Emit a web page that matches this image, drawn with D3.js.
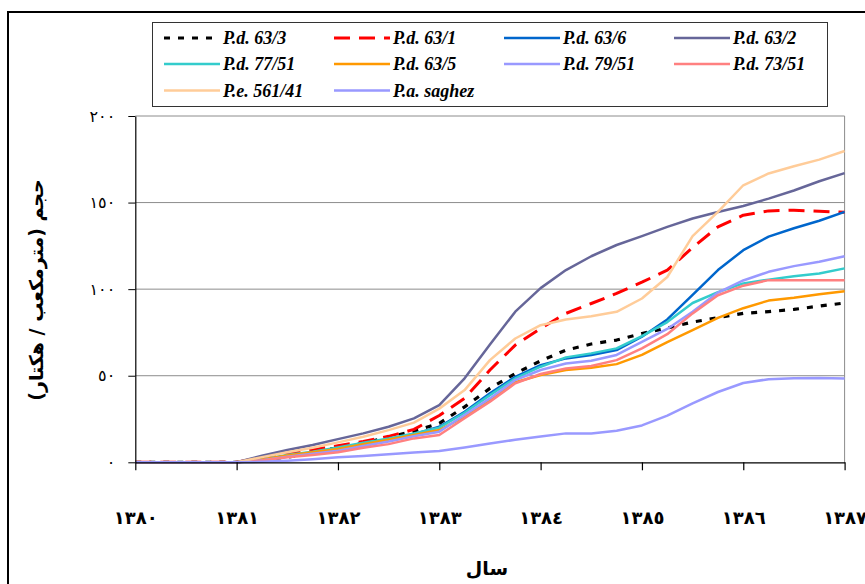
<!DOCTYPE html>
<html>
<head>
<meta charset="utf-8">
<script src="https://cdn.jsdelivr.net/npm/d3@7"></script>
<style>
  html, body { margin: 0; padding: 0; background: #fff; }
  svg { display: block; }
</style>
</head>
<body>
<svg id="chart" width="865" height="584"></svg>
<script>
// ---- data (quarterly readings, 1380 .. 1387) ----
const yearLabels = ["١٣٨٠", "١٣٨١", "١٣٨٢", "١٣٨٣", "١٣٨٤", "١٣٨٥", "١٣٨٦", "١٣٨٧"];
const yTickValues = [0, 50, 100, 150, 200];
const yTickLabels = ["٠", "٥٠", "١٠٠", "١٥٠", "٢٠٠"];
const seriesNames = ["P.d. 63/3", "P.d. 63/1", "P.d. 63/6", "P.d. 63/2", "P.d. 77/51",
                     "P.d. 63/5", "P.d. 79/51", "P.d. 73/51", "P.e. 561/41", "P.a. saghez"];

const pd63_3  = [0,0,0,0,0, 1.5,3,5.5,8.5,11,14.5,18,22.5, 32,42.7,51.3,58.6,64.8,68.3,70.6,74.4,77.5,81,83.5,86,87,88.3,90.2,92];
const pd63_1  = [0,0,0,0,0, 2.8,5,7.3,9.5,12,15,19,27, 37,53.3,67.7,77.3,86,91.7,97.5,104,111,124,136,142.7,145.2,145.6,145,144.4];
const pd63_6  = [0,0,0,0,0, 1.3,3.4,5.3,7.5,10.2,13,16.3,20.5, 29.2,39.8,49.4,56.1,60,62,64.8,72.5,82.5,96.7,111,122.5,130.3,135.2,139.5,144.6];
const pd63_2  = [0,0,0,0,0, 3.8,7.1,10,13.4,16.7,20.5,25.4,33, 48.5,68,87,100.6,111,119,125.5,130.6,136,140.8,144.6,148,152.3,157,162.3,167];
const pd77_51 = [0,0,0,0,0, 1.8,4.2,6.1,8.6,11.3,13.8,16.7,20, 28.6,38.8,48.5,55.2,60.6,62.9,65.8,72.9,81,92,98.3,103.3,105.5,107.5,109,112];
const pd63_5  = [0,0,0,0,0, 1.6,3.9,5.8,7.7,10.5,13,15.8,18.6, 26.3,36,46.2,50.4,53.3,54.6,56.7,62,69.4,76.3,83.4,89,93.4,95,97,98.8];
const pd79_51 = [0,0,0,0,0, 1.2,3.2,5,6.7,9.4,12,15,17.7, 27.3,36.9,47.5,53.3,57.1,58.6,62,69.6,77,87,98,105,110,113.3,115.8,119];
const pd73_51 = [0,0,0,0,0, 1,2.9,4.2,5.8,8.4,10.5,13.8,15.8, 25.4,35,45.6,51,54.2,55.6,59,65.8,74,86,96.5,102,105.2,105.2,105.2,105.2];
const pe561_41= [0,0,0,0,0, 3,5.8,8.4,11.5,14.8,18.6,22.9,31, 41.7,59,71.5,79.2,82.5,84.4,86.9,94.6,107,130.6,144.6,160,166.8,171,174.8,179.8];
const paSaghez= [0,0,0,0,0, 0.3,0.9,1.8,2.9,3.6,4.6,5.6,6.5, 8.5,10.8,13,14.9,16.7,16.7,18.2,21.3,27,34,40.6,45.8,48,48.6,48.7,48.4];

const seriesValues = [pd63_3, pd63_1, pd63_6, pd63_2, pd77_51, pd63_5, pd79_51, pd73_51, pe561_41, paSaghez];

// ---- styles ----
const styles = [
  { color: "#000000", width: 3.2, dash: "6,8" },
  { color: "#FF0000", width: 3,   dash: "16,9" },
  { color: "#0066CC", width: 2.5, dash: null },
  { color: "#666699", width: 2.5, dash: null },
  { color: "#33CCCC", width: 2.5, dash: null },
  { color: "#FF9900", width: 2.5, dash: null },
  { color: "#9999FF", width: 2.5, dash: null },
  { color: "#FF8080", width: 2.5, dash: null },
  { color: "#FFCC99", width: 2.5, dash: null },
  { color: "#9999FF", width: 2.5, dash: null }
];

const svg = d3.select("#chart");
const plotLeft = 135.3, plotRight = 844.6, plotTop = 116, plotBottom = 462.3;
const nPts = pd63_3.length;

const x = d3.scaleLinear().domain([0, nPts - 1]).range([plotLeft, plotRight]);
const y = d3.scaleLinear().domain([0, 200]).range([plotBottom, plotTop]);

// outer border
svg.append("rect").attr("x", 8).attr("y", 12).attr("width", 900).attr("height", 620)
  .attr("fill", "none").attr("stroke", "#000").attr("stroke-width", 2);

// gridlines
svg.append("g").selectAll("line").data(yTickValues.filter(v => v > 0)).join("line")
  .attr("x1", plotLeft).attr("x2", plotRight)
  .attr("y1", d => y(d)).attr("y2", d => y(d))
  .attr("stroke", "#8c8c8c").attr("stroke-width", 1);

// right plot border
svg.append("line").attr("x1", plotRight).attr("x2", plotRight).attr("y1", plotTop).attr("y2", plotBottom)
  .attr("stroke", "#8c8c8c").attr("stroke-width", 1);

// lines
const line = d3.line().x((d, i) => x(i)).y(d => y(d));
seriesValues.forEach((vals, k) => {
  const s = styles[k];
  svg.append("path").datum(vals)
    .attr("d", line)
    .attr("fill", "none")
    .attr("stroke", s.color)
    .attr("stroke-width", s.width)
    .attr("stroke-linejoin", "round")
    .attr("stroke-dasharray", s.dash);
});

// x axis
const xTicks = yearLabels.map((_, i) => i * 4);
const xAxis = d3.axisBottom(x).tickValues(xTicks)
  .tickFormat((d, i) => yearLabels[i]).tickSize(8).tickSizeOuter(0);
const gx = svg.append("g").attr("transform", `translate(0,${plotBottom})`).call(xAxis);
gx.select(".domain").attr("stroke", "#000").attr("stroke-width", 1.2);
gx.selectAll(".tick line").attr("stroke", "#000").attr("stroke-width", 1.2);
gx.selectAll(".tick text")
  .attr("y", 55).attr("dy", "0.35em")
  .attr("font-family", "'DejaVu Sans', sans-serif")
  .attr("font-weight", "bold").attr("font-size", 18).attr("fill", "#000");

// y axis
const yAxis = d3.axisLeft(y).tickValues(yTickValues)
  .tickFormat((d, i) => yTickLabels[i]).tickSize(7).tickSizeOuter(0);
const gy = svg.append("g").attr("transform", `translate(${plotLeft},0)`).call(yAxis);
gy.select(".domain").attr("stroke", "#000").attr("stroke-width", 1.2);
gy.selectAll(".tick line").attr("stroke", "#000").attr("stroke-width", 1);
gy.selectAll(".tick text")
  .attr("x", -20)
  .attr("font-family", "'DejaVu Sans', sans-serif")
  .attr("font-size", 16).attr("fill", "#000");

// axis titles
svg.append("text")
  .attr("transform", "translate(36,290) rotate(-90)")
  .attr("text-anchor", "middle").attr("dy", "0.35em")
  .attr("font-family", "'DejaVu Sans', sans-serif").attr("font-weight", "bold")
  .attr("font-size", 19).attr("direction", "rtl")
  .text("حجم (مترمکعب / هکتار)");

svg.append("text")
  .attr("x", 487).attr("y", 568)
  .attr("text-anchor", "middle").attr("dy", "0.35em")
  .attr("font-family", "'DejaVu Sans', sans-serif").attr("font-weight", "bold")
  .attr("font-size", 19)
  .text("سال");

// legend
const lg = svg.append("g");
lg.append("rect").attr("x", 152.5).attr("y", 22.5).attr("width", 675).attr("height", 84)
  .attr("fill", "#fff").attr("stroke", "#333").attr("stroke-width", 1);
const colX = [164, 334, 504, 674];
const rowY = [38, 64, 90.5];
seriesNames.forEach((name, k) => {
  const cx = colX[k % 4], cy = rowY[Math.floor(k / 4)];
  const s = styles[k];
  lg.append("line").attr("x1", cx).attr("x2", cx + 56).attr("y1", cy).attr("y2", cy)
    .attr("stroke", s.color).attr("stroke-width", s.width).attr("stroke-dasharray", s.dash);
  lg.append("text").attr("x", cx + 59).attr("y", cy).attr("dy", "0.35em")
    .attr("font-family", "'Liberation Serif', 'Times New Roman', serif")
    .attr("font-weight", "bold").attr("font-style", "italic").attr("font-size", 18)
    .text(name);
});
</script>
</body>
</html>
